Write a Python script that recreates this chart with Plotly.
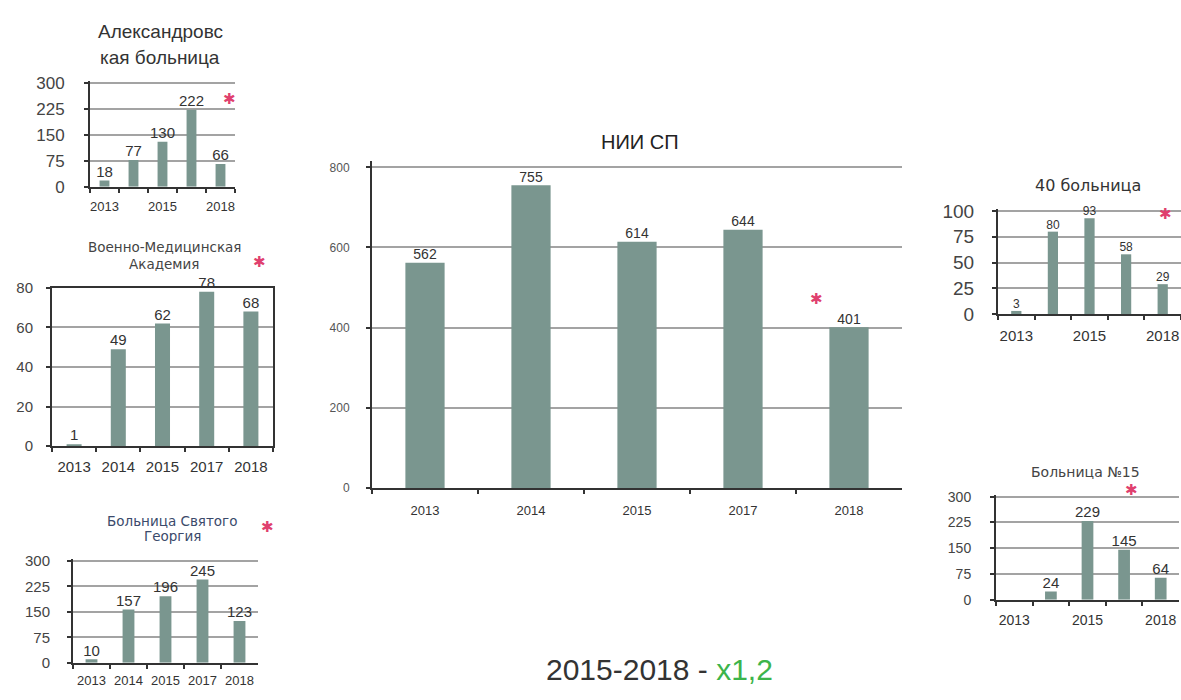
import plotly.graph_objects as go

W, H = 1181, 700

years = ["2013", "2014", "2015", "2017", "2018"]

alex_vals = [18, 77, 130, 222, 66]
vma_vals = [1, 49, 62, 78, 68]
georg_vals = [10, 157, 196, 245, 123]
nii_vals = [562, 755, 614, 644, 401]
b40_vals = [3, 80, 93, 58, 29]
b15_vals = [None, 24, 229, 145, 64]

alex_yticks = [0, 75, 150, 225, 300]
vma_yticks = [0, 20, 40, 60, 80]
georg_yticks = [0, 75, 150, 225, 300]
nii_yticks = [0, 200, 400, 600, 800]
b40_yticks = [0, 25, 50, 75, 100]
b15_yticks = [0, 75, 150, 225, 300]

sparse_labels = ["2013", "", "2015", "", "2018"]

BAR = "#7a968f"
GRID = "#a3a3a3"
AXIS = "#333333"
TXT = "#333333"
STAR = "#e0406e"
FONT = "Liberation Sans, Arial, sans-serif"
WIDE = "DejaVu Sans, Verdana, sans-serif"

fig = go.Figure()


def px_x(x):
    return x / W


def px_y(y):
    return 1 - y / H


PAD = 0.02  # small headroom so the top gridline is drawn

panels = [
    # name, values, yticks, ticktext, x0, x1, ytop, ybottom, barwidth, ytickfont, xtickfont, labelfont, mirror, ystandoff, xstandoff
    ("alex", alex_vals, alex_yticks, sparse_labels, 90, 235, 76, 183, 0.34, 17, 13, 15, False, 16, 7),
    ("vma", vma_vals, vma_yticks, years, 52, 273, 287, 450, 0.34, 15, 15, 15, True, 10, 6),
    ("georg", georg_vals, georg_yticks, years, 73, 258, 568, 673, 0.32, 15, 13, 15, False, 14, 5),
    ("nii", nii_vals, nii_yticks, years, 372, 902, 163, 493, 0.37, 12, 13, 14, False, 14, 9),
    ("b40", b40_vals, b40_yticks, sparse_labels, 998, 1181, 208, 314, 0.28, 19, 15, 12, False, 14, 7),
    ("b15", b15_vals, b15_yticks, sparse_labels, 996, 1179, 502, 608, 0.32, 14, 14, 15, False, 16, 7),
]

for i, (name, vals, yt, xt, x0, x1, yt_px, yb_px, bw, yfs, xfs, lfs, mirror, ysoff, xsoff) in enumerate(panels):
    idx = "" if i == 0 else str(i + 1)
    fig.add_trace(go.Bar(
        x=years, y=vals, width=bw,
        marker=dict(color=BAR, line=dict(width=0)),
        xaxis="x" + idx, yaxis="y" + idx,
        showlegend=False, hoverinfo="x+y",
    ))
    fig.add_trace(go.Scatter(
        x=years, y=vals, mode="text",
        text=[("" if v is None else str(v)) for v in vals],
        textposition="top center",
        textfont=dict(family=FONT, size=lfs, color=TXT),
        cliponaxis=False,
        xaxis="x" + idx, yaxis="y" + idx,
        showlegend=False, hoverinfo="skip",
    ))
    pad = 0.0 if mirror else PAD
    top = yt[-1] * (1 + pad)
    dom_top = yb_px - (yb_px - yt_px) * (1 + pad)
    xa = dict(
        domain=[px_x(x0), px_x(x1)], anchor="y" + idx,
        type="category", categoryorder="array", categoryarray=years,
        range=[-0.5, 4.5],
        tickmode="array", tickvals=years, ticktext=xt, tickangle=0,
        tickson="boundaries", ticks="outside", ticklen=4, tickcolor=AXIS, tickwidth=1.5,
        ticklabelstandoff=xsoff,
        showline=True, linecolor=AXIS, linewidth=2, mirror=mirror,
        showgrid=False, zeroline=False,
        tickfont=dict(family=FONT, size=xfs, color=TXT),
        fixedrange=True,
    )
    ya = dict(
        domain=[px_y(yb_px), px_y(dom_top)], anchor="x" + idx,
        range=[0, top],
        tickmode="array", tickvals=yt,
        ticks="outside", ticklen=4, tickcolor=AXIS, tickwidth=1.5,
        ticklabelstandoff=ysoff,
        showline=True, linecolor=AXIS, linewidth=2, mirror=mirror,
        showgrid=True, gridcolor=GRID, gridwidth=2,
        zeroline=False,
        tickfont=dict(family=FONT, size=yfs, color="#444444" if name != "nii" else "#555555"),
        fixedrange=True,
    )
    fig.layout["xaxis" + idx] = xa
    fig.layout["yaxis" + idx] = ya


def ann(text, x, y, size, color=TXT, family=FONT):
    fig.add_annotation(
        text=text, x=px_x(x), y=px_y(y), xref="paper", yref="paper",
        showarrow=False, xanchor="center", yanchor="middle",
        font=dict(family=family, size=size, color=color))


# titles
ann("Александровс", 160, 23, 19)
ann("кая больница", 160, 50, 19)
ann("Военно-Медицинская", 164, 245, 13.5, "#444444", WIDE)
ann("Академия", 164, 262, 13.5, "#444444", WIDE)
ann("Больница Святого", 172, 527, 13.5, "#3b4a6b", WIDE)
ann("Георгия", 172, 543, 13.5, "#3b4a6b", WIDE)
ann("НИИ СП", 640, 137, 20, "#222222")
ann("40 больница", 1088, 182, 16, TXT, WIDE)
ann("Больница №15", 1085, 477, 14, "#444444", WIDE)

# asterisks
for sx, sy in [(229, 92), (259, 260), (267, 533), (816, 298), (1165, 210), (1131, 495)]:
    ann("✱", sx, sy, 15, STAR)

# bottom caption
fig.add_annotation(
    text="<span style='color:#333333'>2015-2018 - </span><span style='color:#3cb44b'>x1,2</span>",
    x=px_x(660), y=px_y(680), xref="paper", yref="paper",
    showarrow=False, xanchor="center", yanchor="middle",
    font=dict(family=FONT, size=30, color="#333333"))

fig.update_layout(
    width=W, height=H, autosize=False,
    margin=dict(l=0, r=0, t=0, b=0),
    paper_bgcolor="white", plot_bgcolor="rgba(0,0,0,0)",
    bargap=0.6,
)

fig.write_html("out.html", config={"displayModeBar": False},
               post_script="document.body.style.margin='0';")
